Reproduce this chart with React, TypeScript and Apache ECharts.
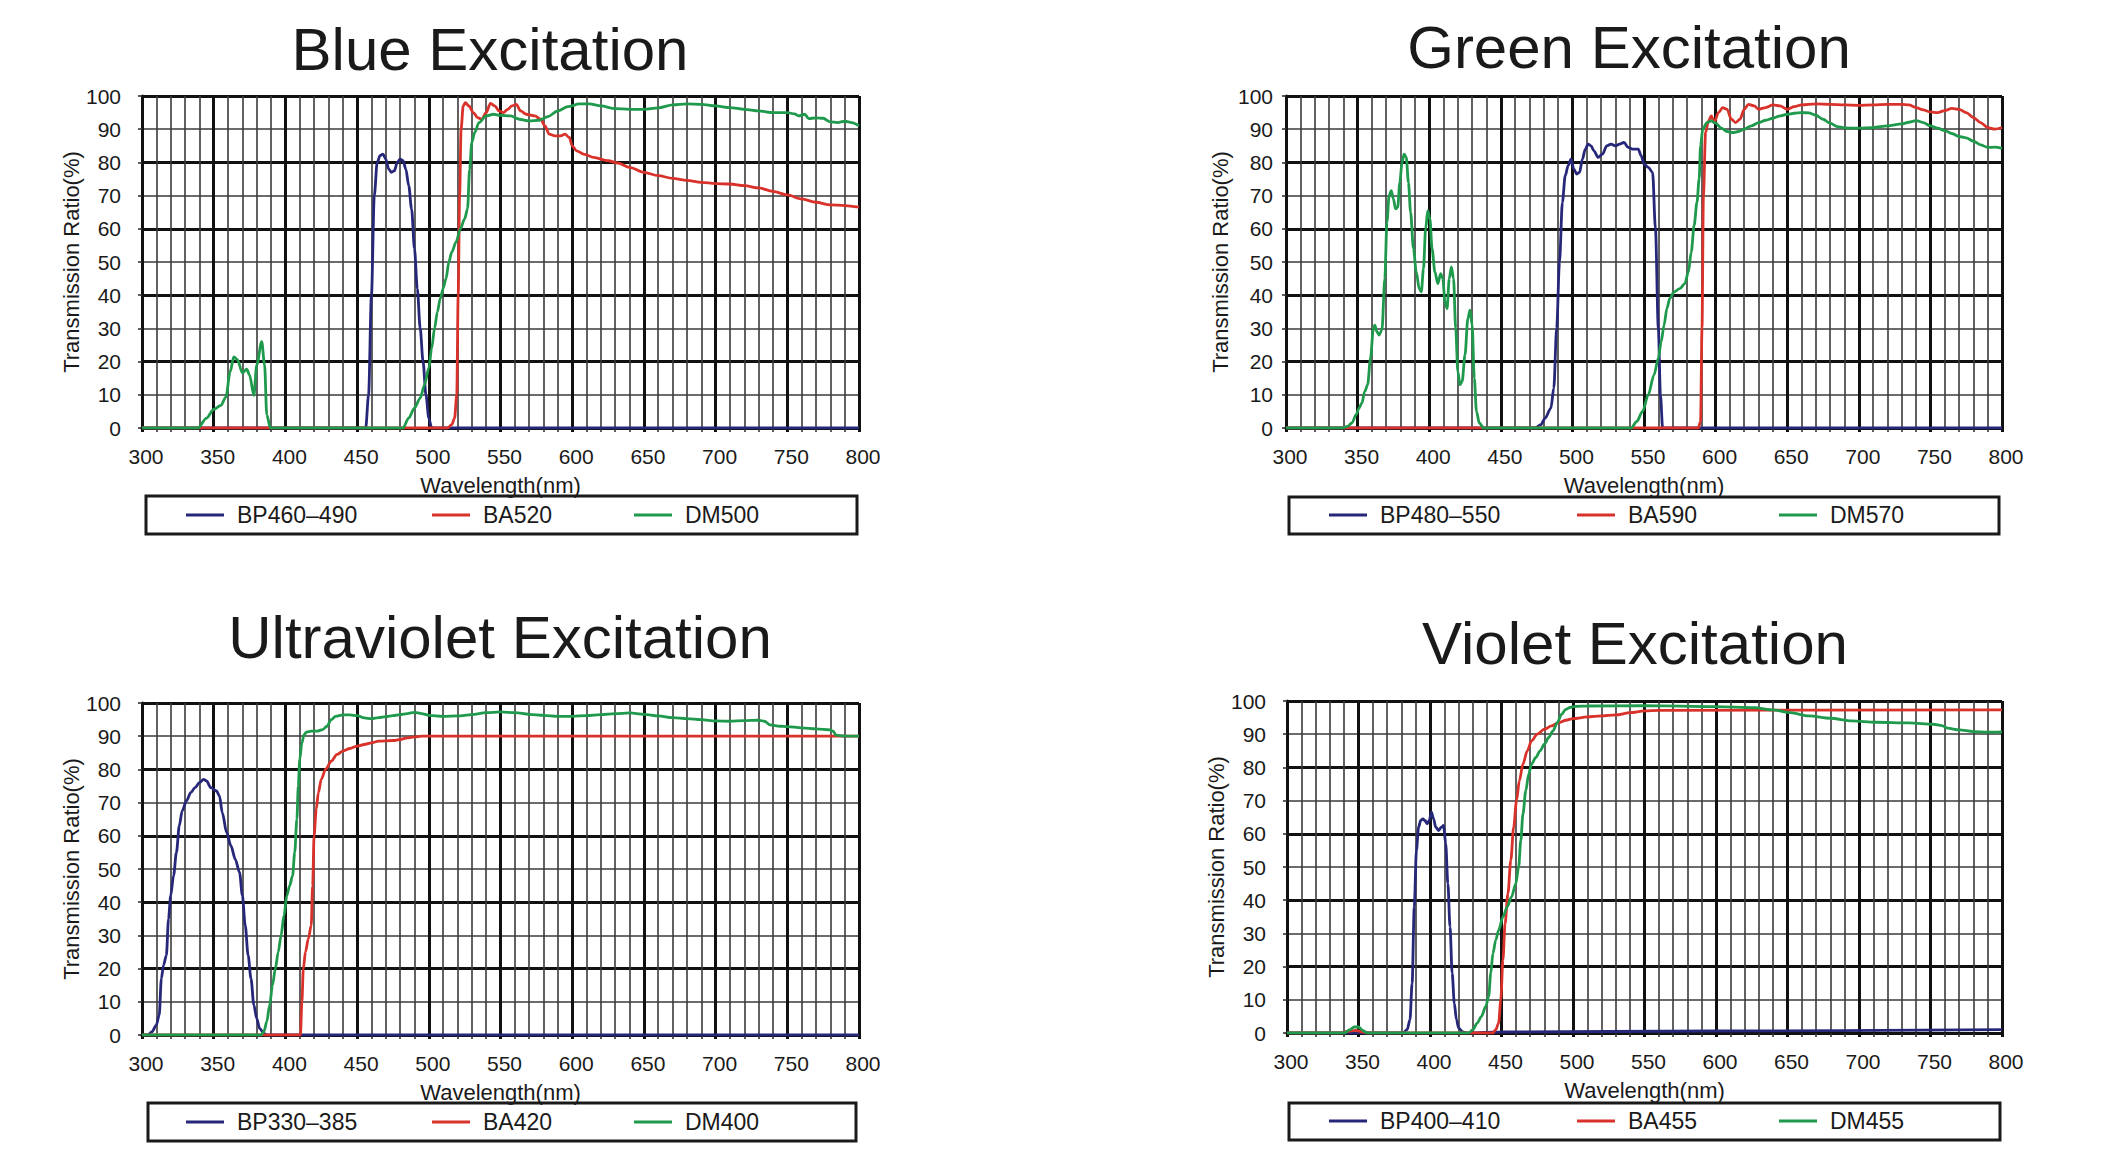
import React, { useEffect, useRef } from "react";
import * as echarts from "echarts";

const FONT = "'Liberation Sans', Arial, Helvetica, sans-serif";
const INK = "#1a1a1a";
const NAVY = "#27277a";
const RED = "#d8322a";
const GREEN = "#1f9a4c";

const chartTitles = ["Blue Excitation", "Green Excitation", "Ultraviolet Excitation", "Violet Excitation"];
const legendNames = [
  ["BP460–490", "BA520", "DM500"],
  ["BP480–550", "BA590", "DM570"],
  ["BP330–385", "BA420", "DM400"],
  ["BP400–410", "BA455", "DM455"],
];
const xAxisName = "Wavelength(nm)";
const yAxisName = "Transmission Ratio(%)";

// ---- Blue Excitation ----
const blueBP = [[300,0],[456,0],[458,10],[460,40],[462,70],[464,80],[466,82],[468,82.5],[470,81],[472,78],[474,77],[476,77.5],[478,80],[480,81],[482,80.5],[484,78],[486,73],[488,66],[490,54],[492,42],[494,30],[496,20],[498,10],[500,3],[502,0],[800,0]];
const blueBA = [[300,0],[513,0],[516,1],[518,3],[519.5,10],[520.5,40],[521.5,70],[522.5,90],[524,97],[525.5,98],[528,97],[531,95],[534,93.5],[537,93],[540,95],[543,97.8],[546,97],[549,95.5],[552,95],[555,96],[558,97],[561,97.5],[564,95.5],[568,94.5],[574,94],[578,93],[581,91],[584,88.5],[588,88],[592,88],[595,88.5],[598,87.5],[600,85],[603,83.5],[608,82.5],[615,81.5],[625,80.5],[632,79.8],[640,78.5],[650,77],[660,76],[670,75.2],[680,74.6],[690,74],[700,73.6],[710,73.5],[720,73],[730,72.3],[740,71.3],[750,70.2],[760,69],[770,68],[780,67.2],[790,67],[800,66.5]];
const blueDM = [[300,0],[339,0],[345,3],[350,5.6],[355,6.8],[358.5,9.3],[361.5,17],[364,21.4],[366.5,20.6],[370,16.6],[373,17.7],[375,16],[378,9.8],[380,19],[383.5,26],[385.5,19],[387,4],[389.5,0],[482,0],[486,3],[490,6],[494,9],[497,13],[500,18],[502,24],[504,30],[506,35],[508,39],[510,42],[512,45],[514,50],[516,53],[519,56],[522,60],[525,63],[527,66],[528.5,78],[530,86],[532,89],[535,92],[540,94],[545,94.5],[550,94.2],[557,94],[563,93],[570,92.5],[577,92.7],[583,93.8],[590,95.5],[597,96.8],[605,97.6],[612,97.6],[620,97],[630,96.2],[640,96],[650,96],[660,96.4],[670,97.3],[680,97.6],[690,97.5],[700,97],[710,96.5],[720,96],[730,95.5],[740,95],[750,95],[755,94.6],[758,94],[762,94.5],[765,93.2],[770,93.4],[775,93.3],[780,92.2],[785,92],[790,92.4],[795,92],[800,91]];

// ---- Green Excitation ----
const greenBP = [[300,0],[474,0],[478,1],[481,3],[485,6],[487,12],[489,30],[491,50],[493,68],[495,76],[497,79],[499,81],[501,78],[503,76.5],[505,77],[507,81],[509,84],[511,85.5],[513,85],[515,83.5],[518,81.5],[521,82.5],[524,85],[527,85.5],[530,85],[533,85.5],[536,86],[539,84.5],[542,84],[546,84],[548,82],[550,79.5],[553,78.5],[556,77],[558,60],[560,30],[561.5,10],[563,0],[800,0]];
const greenBA = [[300,0],[588,0],[589.5,2],[590.5,30],[591.5,70],[593,89],[595,92.5],[597,94],[599,92],[602,95],[605,96.5],[608,96],[611,93],[614,92],[617,93],[620,96],[623,97.5],[627,97],[630,96],[635,96.5],[640,97.3],[645,97],[650,96],[655,96.8],[660,97.3],[670,97.6],[680,97.5],[690,97.3],[700,97.2],[710,97.3],[720,97.5],[730,97.5],[735,97.3],[740,96.5],[745,95.8],[750,95.2],[755,95],[760,95.6],[765,96.3],[770,96],[775,95],[780,93.5],[785,92],[790,90.5],[795,90],[800,90.5]];
const greenDM = [[300,0],[339,0],[343,0.5],[346,1.5],[349,4],[351,6],[353,7.5],[355,11],[357,13],[359,21],[361,30],[362,31],[363.5,29],[365,28],[367,29.5],[369,45],[370.5,62],[372,70],[373.5,71.5],[375,69],[376.5,66],[378,66.5],[379.5,74],[381,80],[382.5,82.5],[384,81.5],[385.5,74],[387,65],[389,54],[391,47],[393,42],[394.5,41],[396,48],[397.5,60],[399,65.5],[400.5,63],[402,54],[404,47],[406,43.5],[408,46.5],[409.5,45],[411,38],[412.5,36],[414,45],[415.5,48.5],[417,45],[418.5,30],[420,17],[421.5,13],[423,14],[425,22],[427,33],[428.5,35.5],[430,31],[431.5,15],[433,5],[435,1.5],[438,0],[541,0],[545,2],[549,5],[553,10],[557,16],[560,21],[562,26],[564,31],[566,36],[568,39],[571,41],[575,42],[578.5,43.5],[581,47],[583,53],[585,61],[587,68],[588.5,75],[589.5,85],[591,90],[594,92],[597,92.5],[600,91.8],[604,90.3],[608,89.3],[612,89],[616,89.3],[620,90],[625,91],[630,92],[635,92.7],[640,93.3],[645,94],[650,94.5],[655,94.8],[660,95],[665,94.9],[670,94.2],[675,93],[680,91.8],[685,90.8],[690,90.4],[700,90.3],[710,90.5],[720,91],[730,91.6],[735,92.1],[740,92.6],[745,92],[750,91],[755,90.3],[760,89.6],[765,88.7],[770,87.8],[775,87.4],[780,86.4],[785,85.3],[790,84.5],[795,84.6],[800,84.2]];

// ---- Ultraviolet Excitation ----
const uvBP = [[300,0],[304,0],[307,1],[310,3],[312,6],[313.5,17],[315,21],[317,24],[318.5,35],[320,42],[322,48],[324,55],[326,63],[328,67.5],[331,70.5],[334,73],[337,74.5],[340,76],[343,77],[345,76.5],[348,74.5],[352,73.5],[354,72],[356,67],[359,61],[362,57],[365,53],[368,49],[370,42],[372,33],[374,24],[376,17],[378,9],[380,5],[382,2],[385,0.5],[387,0],[800,0]];
const uvBA = [[300,0],[410.5,0],[411.5,10],[412.5,20],[414,25],[416,29],[418,33],[419,45],[420,60],[421.5,68],[423,73],[425,77],[428,80],[432,82.5],[436,84.5],[440,85.5],[445,86.3],[450,87],[455,87.5],[460,88],[465,88.5],[475,88.7],[480,89],[485,89.5],[490,89.8],[495,90],[800,90]];
const uvDM = [[300,0],[383,0],[385,1],[387,4],[389,9],[391,15],[393,20],[395,25],[397,30],[399,36],[401,42],[403,45],[405,48],[406.5,55],[408,65],[409,75],[410,83],[411.5,88],[413,90.5],[415,91.3],[418,91.5],[422,91.5],[426,92],[429,93],[432,95],[435,96],[440,96.4],[445,96.4],[450,96.2],[455,95.5],[460,95.3],[465,95.6],[470,95.9],[475,96.2],[480,96.5],[485,96.8],[490,97.2],[495,96.8],[500,96.3],[510,96],[520,96.1],[530,96.5],[540,97.1],[550,97.3],[560,97.1],[570,96.6],[580,96.3],[590,96],[600,96],[610,96.2],[620,96.5],[630,96.8],[640,97],[650,96.6],[660,96.1],[670,95.6],[680,95.3],[690,95],[700,94.6],[710,94.5],[720,94.7],[730,94.8],[734,94.5],[738,93.4],[745,93],[750,92.9],[760,92.5],[770,92.2],[780,91.9],[782,91.5],[784,90.3],[790,90],[800,90]];

// ---- Violet Excitation ----
const violetBP = [[300,0],[381,0],[384,1],[386,4],[387.5,15],[389,38],[390.5,55],[392,62],[393.5,64],[395,64.5],[396.5,64],[398,63],[399.5,64],[401,66.5],[402.5,64.5],[404,62],[406,61],[408,62],[409.5,62.5],[411,57],[412.5,45],[414,32],[415.5,18],[417,9],[418.5,4],[420,1.5],[423,0.3],[426,0],[450,0.3],[600,0.6],[800,1]];
const violetBA = [[300,0],[338,0],[342,0.5],[348,0.8],[353,0.3],[356,0],[444,0],[446,1],[448,3],[449.5,10],[451,22],[452.5,33],[454.5,42],[456.5,52],[458.5,62],[460.5,70],[462.5,76],[465,81],[468,85],[471,88],[475,90],[480,91.5],[485,92.5],[490,93.5],[495,94.2],[500,94.7],[510,95.2],[520,95.5],[530,95.8],[540,96.5],[550,97],[560,97.2],[800,97.3]];
const violetDM = [[300,0],[340,0],[344,1],[347,1.8],[350,1.8],[353,0.8],[356,0],[427,0],[430,1],[433,3],[436,5],[439,8],[441,11],[442.5,18],[444,24],[446,28],[448,31],[451,35],[454,38],[457,41],[460,45],[462,50],[463.5,58],[465,66],[467,73],[469,78],[471,81],[474,83],[477,85],[480,87],[483,89],[486,91],[489,93.5],[492,96],[495,97.5],[498,98.1],[502,98.4],[510,98.5],[550,98.6],[600,98.3],[627,98],[640,97.3],[652,96.5],[665,95.5],[680,94.8],[695,94],[712,93.6],[735,93.4],[752,93],[758,92.6],[762,91.8],[770,91.3],[780,90.8],[790,90.6],[800,90.7]];

const seriesData = [
  [blueBP, blueBA, blueDM],
  [greenBP, greenBA, greenDM],
  [uvBP, uvBA, uvDM],
  [violetBP, violetBA, violetDM],
];
const seriesColors = [NAVY, RED, GREEN];

// layout (pixels)
const panels = [
  { left: 142, top: 96, width: 717, height: 332, yLabelMargin: 21, titleX: 490, titleTop: 19,
    box: [146, 496, 711, 38], legendX: [186, 432, 634], legendY: 515 },
  { left: 1286, top: 96, width: 716, height: 332, yLabelMargin: 13, titleX: 1629, titleTop: 17,
    box: [1289, 497, 710, 37], legendX: [1329, 1577, 1779], legendY: 515 },
  { left: 142, top: 703, width: 717, height: 332, yLabelMargin: 21, titleX: 500, titleTop: 607,
    box: [148, 1103, 708, 38], legendX: [186, 432, 634], legendY: 1122 },
  { left: 1287, top: 701, width: 715, height: 332, yLabelMargin: 21, titleX: 1635, titleTop: 613,
    box: [1289, 1103, 711, 37], legendX: [1329, 1577, 1779], legendY: 1121 },
];

function buildOption() {
  const grid: any[] = [];
  const xAxis: any[] = [];
  const yAxis: any[] = [];
  const series: any[] = [];
  const legend: any[] = [];
  const title: any[] = [];
  const graphic: any[] = [];

  panels.forEach((p, i) => {
    grid.push({ left: p.left, top: p.top, width: p.width, height: p.height, containLabel: false, show: false });
    const xMinor = xAxis.length;
    xAxis.push({
      gridIndex: i, type: "value", min: 300, max: 800, interval: 10, position: "bottom",
      axisLine: { show: false, onZero: false },
      axisTick: { show: true, inside: false, length: 4, lineStyle: { color: "#333", width: 1.6 } },
      axisLabel: { show: false },
      splitLine: { show: true, lineStyle: { color: "#3a3a3a", width: 1.6 } },
    });
    xAxis.push({
      gridIndex: i, type: "value", min: 300, max: 800, interval: 50, position: "bottom",
      axisLine: { show: true, onZero: false, lineStyle: { color: "#111", width: 3 } },
      axisTick: { show: true, inside: false, length: 4, lineStyle: { color: "#111", width: 3 } },
      axisLabel: { show: true, fontSize: 21, color: INK, margin: 18, fontFamily: FONT, padding: [0, 0, 0, 8] },
      splitLine: { show: true, lineStyle: { color: "#111", width: 3 } },
      name: xAxisName, nameLocation: "middle", nameGap: 46,
      nameTextStyle: { fontSize: 22, color: INK, fontFamily: FONT },
    });
    const yMinor = yAxis.length;
    yAxis.push({
      gridIndex: i, type: "value", min: 0, max: 100, interval: 10, position: "left",
      axisLine: { show: false, onZero: false },
      axisTick: { show: true, inside: false, length: 4, lineStyle: { color: "#333", width: 1.6 } },
      axisLabel: { show: true, fontSize: 21, color: INK, margin: p.yLabelMargin, fontFamily: FONT },
      splitLine: { show: true, lineStyle: { color: "#3a3a3a", width: 1.6 } },
      name: yAxisName, nameLocation: "middle", nameGap: 55, nameRotate: 90,
      nameTextStyle: { fontSize: 22, color: INK, fontFamily: FONT },
    });
    yAxis.push({
      gridIndex: i, type: "value", min: 0, max: 100, interval: 20, position: "left",
      axisLine: { show: true, onZero: false, lineStyle: { color: "#111", width: 3 } },
      axisTick: { show: false },
      axisLabel: { show: false },
      splitLine: { show: true, lineStyle: { color: "#111", width: 3 } },
    });

    seriesData[i].forEach((data, k) => {
      const name = legendNames[i][k];
      series.push({
        type: "line", name, xAxisIndex: xMinor, yAxisIndex: yMinor, data,
        symbol: "none", smooth: 0.3, smoothMonotone: "x",
        lineStyle: { color: seriesColors[k], width: 2.8 },
        itemStyle: { color: seriesColors[k] },
        z: 3 + k,
      });
      legend.push({
        data: [name], left: p.legendX[k], top: p.legendY - 13, padding: 0, itemGap: 0,
        icon: "rect", itemWidth: 38, itemHeight: 3, selectedMode: false,
        textStyle: { fontSize: 23, color: INK, fontFamily: FONT, lineHeight: 26, padding: [0, 0, 0, 8] },
      });
    });

    title.push({
      text: chartTitles[i], left: p.titleX, top: p.titleTop, textAlign: "center", padding: 0,
      textStyle: { fontSize: 60, fontWeight: "normal", color: INK, fontFamily: FONT },
    });

    graphic.push({
      type: "rect", shape: { x: p.box[0], y: p.box[1], width: p.box[2], height: p.box[3] },
      style: { fill: "none", stroke: INK, lineWidth: 3 }, z: 10,
    });
  });

  return { animation: false, backgroundColor: "#ffffff", grid, xAxis, yAxis, series, legend, title, graphic };
}

export default function App() {
  const ref = useRef<HTMLDivElement>(null);
  useEffect(() => {
    document.body.style.margin = "0";
    if (!ref.current) return;
    const chart = echarts.init(ref.current, undefined, { renderer: "svg" });
    chart.setOption(buildOption() as any);
    return () => chart.dispose();
  }, []);
  return <div ref={ref} style={{ width: 2111, height: 1171, background: "#fff" }} />;
}
